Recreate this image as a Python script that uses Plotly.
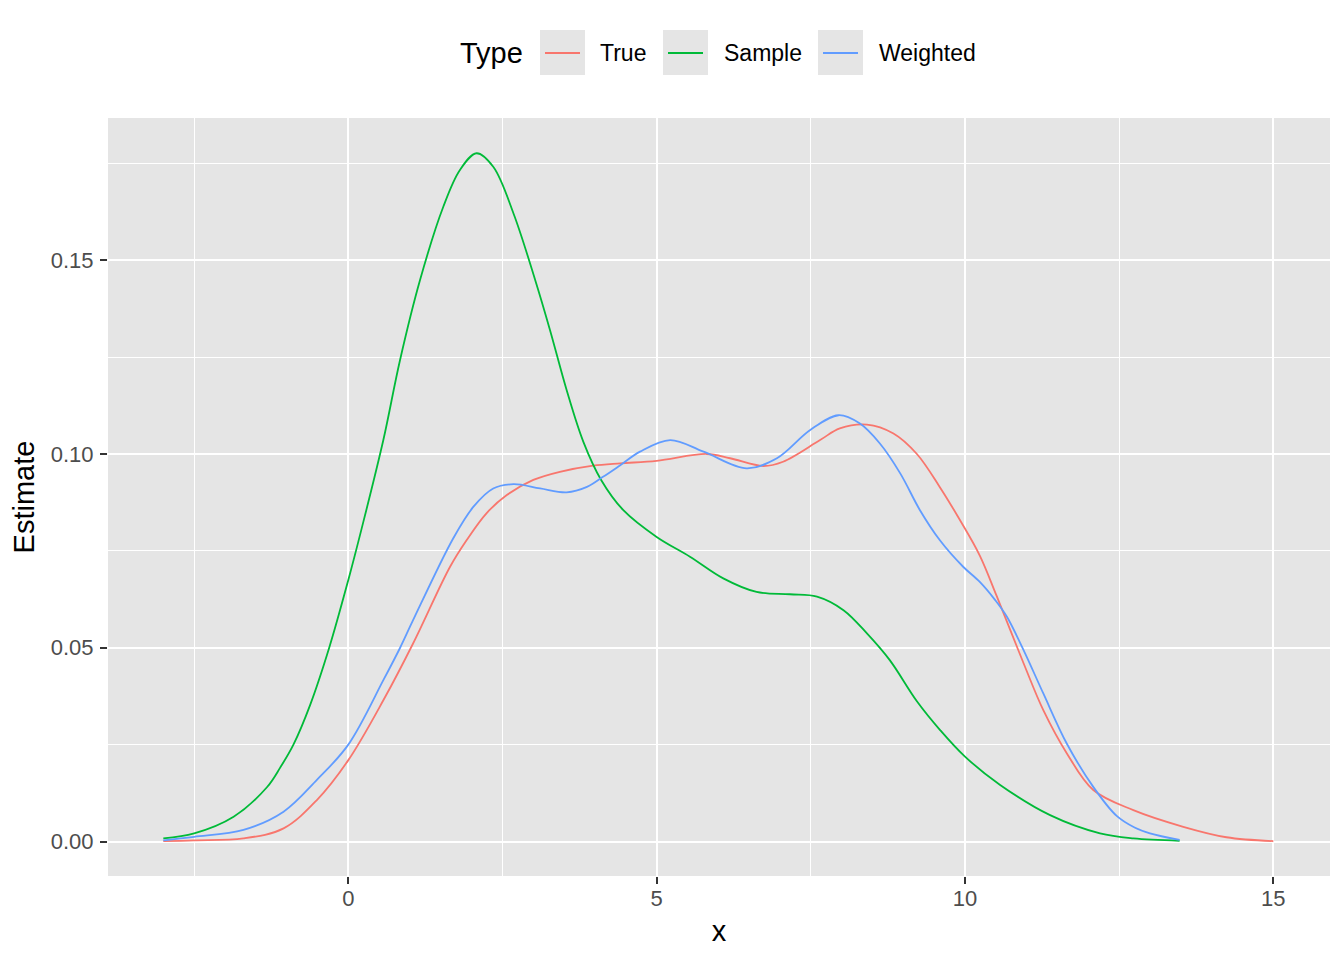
import plotly.graph_objects as go

# density estimates
true_x = [-3.0, -2.5, -1.7, -1.05, -0.51, 0.0, 0.57, 1.05, 1.65, 1.92, 2.24, 2.57, 3.0, 3.43,
          3.97, 4.41, 5.0, 5.81, 6.19, 6.73, 7.05, 7.65, 7.97, 8.41, 8.84, 9.22, 9.59, 9.92,
          10.24, 10.51, 10.95, 11.27, 11.65, 12.08, 12.73, 13.54, 14.24, 15.0]
true_y = [0.0001, 0.0003, 0.0008, 0.0034, 0.0107, 0.021, 0.0365, 0.0511, 0.0709, 0.0778,
          0.0847, 0.0894, 0.0933, 0.0954, 0.097, 0.0976, 0.0982, 0.1, 0.0989, 0.0969, 0.098,
          0.1036, 0.1066, 0.1076, 0.1053, 0.1, 0.0915, 0.0829, 0.0738, 0.0635, 0.046, 0.0339,
          0.0228, 0.0133, 0.0081, 0.0038, 0.0011, 0.0001]

sample_x = [-3.0, -2.5, -1.86, -1.32, -1.1, -0.89, -0.62, -0.31, 0.0, 0.217, 0.568, 0.838,
            1.163, 1.54, 1.81, 2.08, 2.35, 2.68, 3.03, 3.27, 3.54, 3.81, 4.1, 4.46, 5.0, 5.54,
            6.08, 6.62, 7.16, 7.6, 8.03, 8.41, 8.78, 9.22, 9.6, 10.0, 10.57, 11.38, 12.19,
            12.73, 13.48]
sample_y = [0.0008, 0.0021, 0.0064, 0.014, 0.0192, 0.025, 0.0352, 0.05, 0.0675, 0.0808,
            0.1036, 0.1242, 0.1449, 0.1638, 0.1733, 0.1776, 0.1741, 0.162, 0.1449, 0.132,
            0.1165, 0.1032, 0.0933, 0.0855, 0.0786, 0.0735, 0.0679, 0.0644, 0.0638, 0.0632,
            0.0597, 0.0537, 0.0468, 0.0362, 0.0287, 0.0219, 0.0146, 0.0068, 0.0021, 0.0008,
            0.0002]

weighted_x = [-3.0, -2.5, -1.7, -1.05, -0.51, 0.0, 0.57, 0.84, 1.05, 1.7, 2.03, 2.35, 2.68,
              3.11, 3.54, 3.87, 4.13, 4.41, 4.73, 5.22, 5.76, 6.46, 6.95, 7.49, 7.95, 8.29,
              8.62, 8.95, 9.27, 9.59, 9.97, 10.24, 10.49, 10.68, 10.95, 11.27, 11.65, 12.08,
              12.46, 12.75, 13.0, 13.48]
weighted_y = [0.0003, 0.0012, 0.003, 0.0077, 0.0159, 0.025, 0.0417, 0.05, 0.0571, 0.0782,
              0.0864, 0.0911, 0.0922, 0.0911, 0.0901, 0.0915, 0.0941, 0.0971, 0.1006, 0.1036,
              0.1006, 0.0963, 0.0989, 0.1062, 0.11, 0.1079, 0.1027, 0.095, 0.0855, 0.0778,
              0.0709, 0.067, 0.0623, 0.058, 0.0494, 0.0382, 0.0253, 0.0141, 0.0066, 0.0036,
              0.0021, 0.0004]

type_names = ["True", "Sample", "Weighted"]
type_colors = ["#F8766D", "#00BA38", "#619CFF"]
series_x = [true_x, sample_x, weighted_x]
series_y = [true_y, sample_y, weighted_y]

x_ticks = [0, 5, 10, 15]
y_ticks = [0, 0.05, 0.10, 0.15]
y_ticktext = ["0.00", "0.05", "0.10", "0.15"]

# page geometry (pixels) of the panel, used to place the ggplot-like legend
PANEL_L, PANEL_R, PANEL_T, PANEL_B = 108, 1330, 118, 876


def px_x(px):
    return (px - PANEL_L) / (PANEL_R - PANEL_L)


def px_y(py):
    return (PANEL_B - py) / (PANEL_B - PANEL_T)


fig = go.Figure()
for name, xs, ys, color in zip(type_names, series_x, series_y, type_colors):
    fig.add_trace(go.Scatter(
        x=xs, y=ys, name=name, mode="lines", showlegend=False,
        line=dict(color=color, width=1.8, shape="spline", smoothing=1.0),
    ))

# legend drawn ggplot-style: grey key boxes with a line segment, then the label
key_left = [540, 663, 818]
label_left = [600, 724, 879]
key_top, key_bottom, key_mid = 30, 75, 53
shapes = []
annotations = [dict(
    text="Type", x=px_x(458), y=px_y(key_mid), xref="paper", yref="paper",
    xanchor="left", yanchor="middle", showarrow=False, font=dict(size=29, color="#000000"),
)]
for name, color, kl, tl in zip(type_names, type_colors, key_left, label_left):
    shapes.append(dict(
        type="rect", xref="paper", yref="paper",
        x0=px_x(kl), x1=px_x(kl + 45), y0=px_y(key_bottom), y1=px_y(key_top),
        fillcolor="#e5e5e5", line=dict(width=0),
    ))
    shapes.append(dict(
        type="line", xref="paper", yref="paper",
        x0=px_x(kl + 5), x1=px_x(kl + 40), y0=px_y(key_mid), y1=px_y(key_mid),
        line=dict(color=color, width=2),
    ))
    annotations.append(dict(
        text=name, x=px_x(tl - 2), y=px_y(key_mid), xref="paper", yref="paper",
        xanchor="left", yanchor="middle", showarrow=False, font=dict(size=23, color="#000000"),
    ))

axis_common = dict(
    showgrid=True,
    gridcolor="#ffffff",
    gridwidth=2,
    zeroline=False,
    ticks="outside",
    ticklen=7,
    tickwidth=2,
    tickcolor="#333333",
    tickfont=dict(size=22, color="#4d4d4d"),
    showline=False,
)

fig.update_layout(
    width=1336,
    height=952,
    paper_bgcolor="#ffffff",
    plot_bgcolor="#e5e5e5",
    font=dict(family="Liberation Sans, Arial, sans-serif", color="#000000"),
    margin=dict(l=100, r=14, t=110, b=84),
    showlegend=False,
    shapes=shapes,
    annotations=annotations,
    xaxis=dict(
        axis_common,
        range=[-3.897, 15.919],
        tickvals=x_ticks,
        ticktext=[str(v) for v in x_ticks],
        ticklabelstandoff=-4,
        minor=dict(tickvals=[-2.5, 2.5, 7.5, 12.5], showgrid=True, gridcolor="#ffffff",
                   gridwidth=1.1, ticks=""),
        title=dict(text="x", font=dict(size=29), standoff=10),
    ),
    yaxis=dict(
        axis_common,
        range=[-0.0089, 0.1867],
        tickvals=y_ticks,
        ticktext=y_ticktext,
        ticklabelstandoff=2,
        minor=dict(tickvals=[0.025, 0.075, 0.125, 0.175], showgrid=True, gridcolor="#ffffff",
                   gridwidth=1.1, ticks=""),
        title=dict(text="Estimate", font=dict(size=29), standoff=8),
    ),
)

fig.write_html("out.html")
